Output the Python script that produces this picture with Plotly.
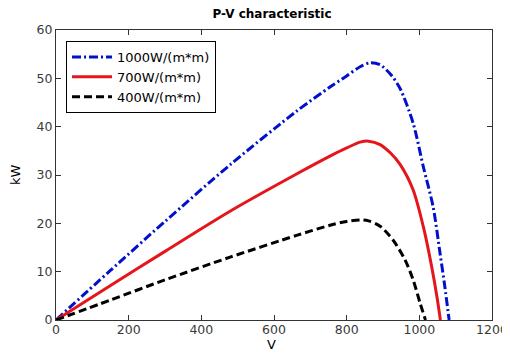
import plotly.graph_objects as go

# 1000 W/m^2 series
v_1000 = [0, 149, 300, 479, 662, 754, 800, 837, 864, 892, 920, 947, 983, 1011, 1038, 1057, 1070, 1082]
p_1000 = [0, 10.2, 20.4, 32.1, 43.2, 48.2, 50.5, 52.4, 53.2, 52.8, 50.9, 47.9, 40.7, 31.7, 23.4, 13.8, 7.0, 0]

# 700 W/m^2 series
v_700 = [0, 149, 300, 479, 662, 754, 800, 837, 860, 892, 920, 947, 983, 1011, 1034, 1048, 1058]
p_700 = [0, 7.1, 14.2, 22.5, 30.2, 33.9, 35.6, 36.8, 37.0, 36.3, 34.6, 32.2, 26.9, 19.3, 11.0, 5.0, 0]

# 400 W/m^2 series
v_400 = [0, 149, 300, 479, 662, 754, 800, 837, 860, 892, 928, 961, 983, 1002, 1017]
p_400 = [0, 4.1, 8.3, 13.0, 17.5, 19.6, 20.4, 20.7, 20.5, 19.4, 16.5, 12.4, 8.3, 3.5, 0]

names = ["1000W/(m*m)", "700W/(m*m)", "400W/(m*m)"]
x_ticks = [0, 200, 400, 600, 800, 1000, 1200]
y_ticks = [0, 10, 20, 30, 40, 50, 60]

FONT = "DejaVu Sans, Liberation Sans, Arial"

# page has an 8px body margin: figure is drawn at (8, 8)
W, H = 502, 346

fig = go.Figure()
fig.add_trace(go.Scatter(x=v_1000, y=p_1000, mode="lines", name=names[0],
                         line=dict(color="#0010cc", width=3, dash="9px,3px,2px,3px",
                                   shape="spline", smoothing=0.8)))
fig.add_trace(go.Scatter(x=v_700, y=p_700, mode="lines", name=names[1],
                         line=dict(color="#e4161b", width=3, shape="spline", smoothing=0.8)))
fig.add_trace(go.Scatter(x=v_400, y=p_400, mode="lines", name=names[2],
                         line=dict(color="#000000", width=3, dash="8px,4px",
                                   shape="spline", smoothing=0.8)))

axis_common = dict(showline=True, linecolor="#333333", linewidth=1, mirror="ticks",
                   ticks="inside", ticklen=5, tickcolor="#333333", showgrid=False,
                   zeroline=False, automargin=False,
                   tickfont=dict(family=FONT, size=12.5, color="#3a3a3a"))

fig.update_layout(
    width=W, height=H,
    margin=dict(l=48, r=18, t=22, b=34),
    paper_bgcolor="white", plot_bgcolor="white",
    title=dict(text="<b>P-V characteristic</b>", x=264 / W, xanchor="center",
               y=1 - 6 / H, yanchor="middle", yref="container",
               font=dict(family=FONT, size=12, color="#000000")),
    xaxis=dict(range=[0, 1200], tickvals=x_ticks, ticklabelstandoff=-2, **axis_common),
    yaxis=dict(range=[0, 60], tickvals=y_ticks, **axis_common),
    legend=dict(x=0.023, y=0.962, xanchor="left", yanchor="top",
                bordercolor="#000000", borderwidth=1, bgcolor="white",
                font=dict(family=FONT, size=13, color="#000000"),
                tracegroupgap=0, itemwidth=40),
    showlegend=True,
    annotations=[
        dict(text="V", xref="paper", yref="paper", x=0.495, y=-0.0845,
             xanchor="center", yanchor="middle", showarrow=False, borderpad=0,
             font=dict(family=FONT, size=13, color="#000000")),
        dict(text="kW", xref="paper", yref="paper", x=-0.094, y=0.5,
             xanchor="center", yanchor="middle", showarrow=False, textangle=-90,
             font=dict(family=FONT, size=13, color="#000000")),
    ],
)

fig.write_html("out.html")
